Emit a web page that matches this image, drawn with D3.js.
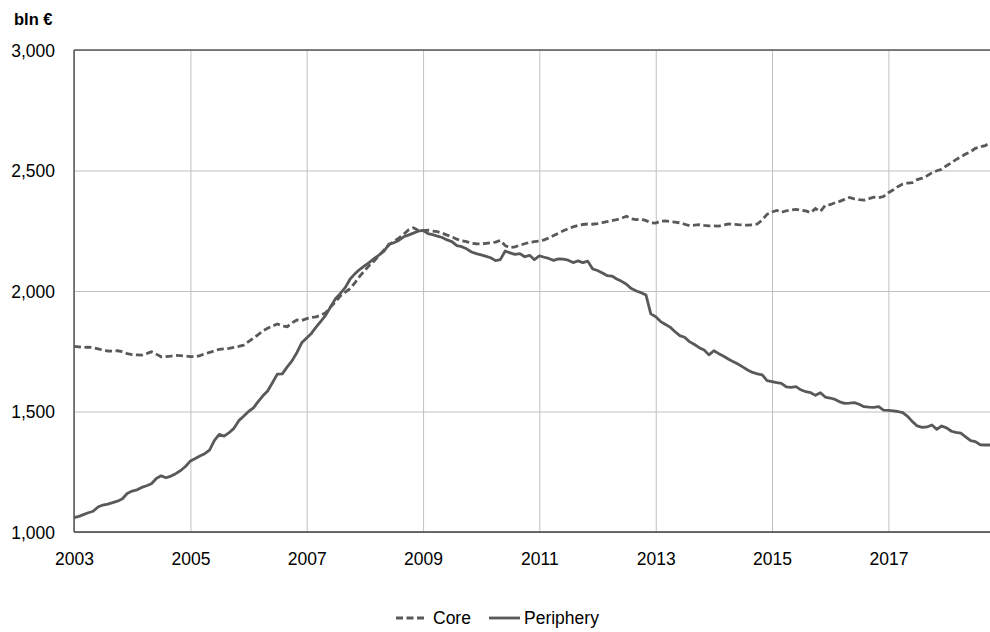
<!DOCTYPE html>
<html>
<head>
<meta charset="utf-8">
<script src="https://cdn.jsdelivr.net/npm/d3@7"></script>
<style>
  body { margin: 0; background: #fff; }
</style>
</head>
<body>
<div class="chart"></div>
<script>
// Core vs Periphery, bln €, monthly Jan 2003 - Oct 2018
var series = ["Core", "Periphery"];
var yTicks = [1000, 1500, 2000, 2500, 3000];
var xTicks = ["2003", "2005", "2007", "2009", "2011", "2013", "2015", "2017"];
var startMonth = "2003-01";
var endMonth = "2018-10";

// one row per year
var data_core = [
  1770, 1768, 1766, 1767, 1765, 1760, 1755, 1751, 1750, 1752, 1748, 1740,
  1736, 1735, 1734, 1740, 1748, 1738, 1727, 1728, 1730, 1733, 1732, 1730,
  1728, 1727, 1732, 1739, 1745, 1752, 1758, 1760, 1762, 1766, 1770, 1775,
  1790, 1805, 1818, 1835, 1845, 1855, 1863, 1855, 1852, 1868, 1880, 1878,
  1885, 1890, 1893, 1900, 1910, 1935, 1955, 1980, 1995, 2010, 2035, 2062,
  2085, 2108, 2125, 2149, 2170, 2191, 2205, 2219, 2235, 2253, 2262, 2252,
  2250, 2252, 2249, 2246, 2240, 2232, 2225, 2215, 2208, 2205, 2198, 2196,
  2195, 2198, 2200, 2203, 2210, 2188, 2180, 2183, 2190, 2196, 2202, 2205,
  2207, 2212, 2220, 2230, 2240, 2250, 2258, 2266, 2272, 2276, 2278, 2277,
  2280, 2284, 2288, 2292, 2296, 2302, 2310, 2300, 2296, 2298, 2292, 2283,
  2282, 2290, 2291, 2288, 2286, 2283, 2277, 2271, 2273, 2275, 2272, 2270,
  2270, 2269, 2274, 2278, 2277, 2275, 2274, 2273, 2275, 2278, 2295, 2318,
  2328, 2334, 2327, 2333, 2336, 2339, 2335, 2332, 2325, 2342, 2330, 2355,
  2358, 2366, 2372, 2380, 2388, 2382, 2379, 2377, 2383, 2389, 2387, 2392,
  2408, 2420, 2433, 2444, 2448, 2450, 2462, 2468, 2478, 2490, 2499, 2505,
  2520, 2532, 2545, 2557, 2568, 2578, 2592, 2598, 2603, 2615
];
var data_periphery = [
  1060, 1065, 1072, 1080, 1086, 1104, 1112, 1116, 1122, 1128, 1138, 1160,
  1170, 1175, 1185, 1192, 1200, 1222, 1233, 1225, 1232, 1242, 1255, 1272,
  1295, 1305, 1315, 1325, 1340, 1380, 1405, 1398, 1412, 1430, 1462, 1480,
  1500, 1515, 1540, 1565, 1585, 1620, 1655, 1656, 1685, 1710, 1745, 1785,
  1805, 1825, 1850, 1875, 1900, 1935, 1968, 1990, 2015, 2050, 2072, 2090,
  2105, 2120, 2135, 2150, 2165, 2195, 2200, 2210, 2225, 2232, 2240, 2248,
  2252, 2238, 2234, 2228, 2222, 2212, 2205, 2188, 2184, 2175, 2162, 2155,
  2150, 2144, 2138, 2126, 2130, 2166, 2158, 2152, 2155, 2142, 2148, 2130,
  2146, 2140, 2135, 2127, 2133, 2132, 2128, 2118, 2125, 2118, 2124, 2092,
  2085, 2075, 2064, 2062, 2050, 2040, 2028, 2010, 2000, 1993, 1983, 1905,
  1893, 1873, 1862, 1850, 1832, 1815, 1808, 1790, 1778, 1765, 1755, 1735,
  1752, 1740, 1730, 1718, 1707, 1697, 1685, 1672, 1662, 1656, 1652, 1628,
  1624, 1620, 1617, 1602, 1600, 1603, 1590, 1582, 1578, 1567, 1578, 1560,
  1556, 1550, 1540, 1534, 1535, 1537, 1530, 1520, 1518, 1517, 1520, 1506,
  1505, 1503, 1500, 1495, 1480, 1458, 1440, 1434, 1436, 1444, 1426, 1440,
  1432, 1418, 1413, 1410, 1395, 1379, 1375, 1362, 1361, 1361
];

var lineColor = "#595959";
var gridColor = "#c0c0c0";
var dash = "7,3.5";
var font = "'Liberation Sans', Arial, sans-serif";

var parseMonth = d3.timeParse("%Y-%m");
var t0 = parseMonth(startMonth), t1 = parseMonth(endMonth);
var months = d3.timeMonth.range(t0, d3.timeMonth.offset(t1, 1));

var svg = d3.select(".chart")
            .append("svg")
            .attr("width", 990)
            .attr("height", 632);

var plotL = 74, plotR = 990, plotT = 50, plotB = 532;

var x = d3.scaleTime().domain([t0, t1]).range([plotL, plotR]);
var y = d3.scaleLinear().domain([1000, 3000]).range([plotB, plotT]);

// y axis + horizontal grid
var yAxis = svg.append("g")
    .attr("transform", "translate(" + plotL + ",0)")
    .call(d3.axisLeft(y).tickValues(yTicks).tickSize(-(plotR - plotL))
          .tickPadding(19).tickFormat(d3.format(",")));
yAxis.select(".domain").remove();
yAxis.selectAll("line").attr("stroke", gridColor).attr("stroke-width", 1);
yAxis.selectAll("text")
    .attr("font-family", font).attr("font-size", "17.5px").attr("fill", "#000")
    .attr("dy", "0.36em");

// x axis + vertical grid
var xAxis = svg.append("g")
    .attr("transform", "translate(0," + plotB + ")")
    .call(d3.axisBottom(x).tickValues(xTicks.map(function(d) { return d3.timeParse("%Y")(d); }))
          .tickSize(-(plotB - plotT)).tickPadding(0).tickFormat(d3.timeFormat("%Y")));
xAxis.select(".domain").remove();
xAxis.selectAll("line").attr("stroke", gridColor).attr("stroke-width", 1);
xAxis.selectAll("text")
    .attr("font-family", font).attr("font-size", "17.5px").attr("fill", "#000")
    .attr("y", 33).attr("dy", 0);

// plot border lines
svg.append("line").attr("x1", plotL).attr("y1", plotT).attr("x2", plotL).attr("y2", plotB)
    .style("stroke", "#404040").style("stroke-width", 1.3);
svg.append("line").attr("x1", plotL).attr("y1", plotB).attr("x2", plotR).attr("y2", plotB)
    .style("stroke", "#404040").style("stroke-width", 1.3);
svg.append("line").attr("x1", plotL).attr("y1", plotT).attr("x2", plotR).attr("y2", plotT)
    .style("stroke", "#595959").style("stroke-width", 1.3);

// unit label
svg.append("text")
    .attr("x", 14).attr("y", 25)
    .text("bln €")
    .attr("font-family", font).attr("font-size", "16.5px").attr("font-weight", "bold")
    .attr("fill", "#000");

// lines
var line = d3.line()
    .x(function(d, i) { return x(months[i]); })
    .y(function(d) { return y(d); });

svg.append("path")
    .datum(data_core)
    .attr("d", line)
    .attr("fill", "none")
    .attr("stroke", lineColor)
    .attr("stroke-width", 2.8)
    .attr("stroke-dasharray", dash);

svg.append("path")
    .datum(data_periphery)
    .attr("d", line)
    .attr("fill", "none")
    .attr("stroke", lineColor)
    .attr("stroke-width", 2.8)
    .attr("stroke-linejoin", "round");

// legend
var legendX = [396, 489];
var legendTextX = [433, 524];
for (var i = 0; i < 2; i++) {
    svg.append("line")
        .attr("x1", legendX[i]).attr("y1", 618)
        .attr("x2", legendX[i] + 31).attr("y2", 618)
        .style("stroke", lineColor)
        .style("stroke-width", 2.8)
        .style("stroke-dasharray", i == 0 ? dash : null);
    svg.append("text")
        .attr("x", legendTextX[i]).attr("y", 624)
        .text(series[i])
        .attr("font-family", font).attr("font-size", "17.5px")
        .attr("fill", "#000");
}
</script>
</body>
</html>
